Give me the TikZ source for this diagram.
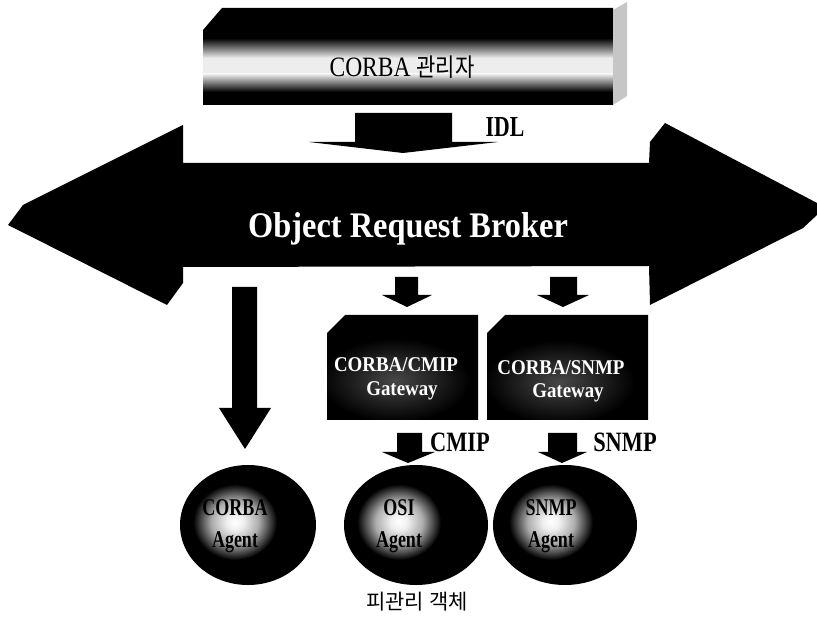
\documentclass[tikz,border=0pt]{standalone}
\usepackage{fontspec}
\usepackage{graphicx}
\setmainfont{Liberation Serif}
\newfontfamily\krfont{Noto Sans CJK KR}

% narrow (condensed) lettering
\newcommand{\narrowtext}[2][0.85]{\scalebox{#1}[1]{#2}}

% light glow behind the agent names, dim glow inside the gateways
\pgfdeclareradialshading{agentglow}{\pgfpoint{0bp}{0bp}}{%
  color(0bp)=(white); color(5bp)=(gray!12); color(14bp)=(gray!65);
  color(25bp)=(black); color(50bp)=(black)}
\pgfdeclareradialshading{gateglow}{\pgfpoint{0bp}{0bp}}{%
  color(0bp)=(black!72); color(25bp)=(black); color(50bp)=(black)}

\tikzset{
  blk/.style={fill=black, draw=none},
  lbl/.style={inner sep=0pt, outer sep=0pt},
  boldlbl/.style={lbl, font=\bfseries\fontsize{28}{30}\selectfont},
  gatetext/.style={lbl, text=white, font=\bfseries\fontsize{21}{23}\selectfont},
  agenttext/.style={lbl, text=black, font=\bfseries\fontsize{24}{26}\selectfont},
}

\begin{document}
\begin{tikzpicture}[x=1pt, y=-1pt]
\useasboundingbox (0,0) rectangle (817,617);

% ---------- CORBA manager bar ----------
\fill[blk] (203,30) -- (222,8) -- (613,8) -- (613,105) -- (203,105) -- cycle;
\shade[top color=black, bottom color=gray!14] (203,38) rectangle (613,58);
\fill[gray!14] (203,58) rectangle (613,74);
\shade[top color=gray!14, bottom color=black] (203,74) rectangle (613,92);
\fill[gray!45] (613,10) -- (627,2) -- (627,96) -- (613,105) -- cycle;
\node[lbl, anchor=base, font=\fontsize{28}{30}\selectfont] (mgr) at (402,77)
  {\narrowtext[0.84]{CORBA {\krfont\fontsize{25}{27}\selectfont 관리자}}};

% ---------- IDL arrow ----------
\fill[blk] (355,113) -- (452,113) -- (452,142) -- (498,142) -- (403,153)
  -- (309,142) -- (355,142) -- cycle;
\node[boldlbl, anchor=base, font=\bfseries\fontsize{29}{30}\selectfont] (idl) at (505,137)
  {\narrowtext[0.75]{IDL}};

% ---------- Object Request Broker double arrow ----------
\fill[blk] (8,225) -- (23,205) -- (183,125) -- (183,163) -- (649,163)
  -- (650,142) -- (665,123) -- (817,203) -- (817,215) -- (803,228)
  -- (650,305) -- (649,266) -- (183,267) -- (183,283) -- (167,305) -- cycle;
\node[lbl, anchor=base, text=white, font=\bfseries\fontsize{36}{38}\selectfont] (orb)
  at (408,238) {\narrowtext[0.9]{Object Request Broker}};

% ---------- arrows out of the broker ----------
\fill[blk] (232,287) -- (257,287) -- (257,408) -- (271,408) -- (245,449)
  -- (219,408) -- (232,408) -- cycle;
\fill[blk] (395,277) -- (418,277) -- (418,295) -- (432,295) -- (407,307)
  -- (382,295) -- (395,295) -- cycle;
\fill[blk] (550,277) -- (577,277) -- (577,295) -- (589,295) -- (563,307)
  -- (537,295) -- (550,295) -- cycle;

% ---------- gateways ----------
\fill[blk] (327,333) -- (345,315) -- (478,315) -- (478,420) -- (327,420) -- cycle;
\begin{scope}
  \clip (327,333) -- (345,315) -- (478,315) -- (478,420) -- (327,420) -- cycle;
  \shade[shading=gateglow] (395,380) ellipse (75 and 42);
\end{scope}
\node[gatetext, anchor=base] (cmipgw) at (396,372) {\narrowtext[0.9]{CORBA/CMIP}};
\node[gatetext, anchor=base] (cmipgw2) at (402,396) {\narrowtext[0.9]{Gateway}};

\fill[blk] (487,333) -- (505,315) -- (648,315) -- (648,420) -- (487,420) -- cycle;
\begin{scope}
  \clip (487,333) -- (505,315) -- (648,315) -- (648,420) -- (487,420) -- cycle;
  \shade[shading=gateglow] (560,382) ellipse (75 and 42);
\end{scope}
\node[gatetext, anchor=base] (snmpgw) at (561,375) {\narrowtext[0.9]{CORBA/SNMP}};
\node[gatetext, anchor=base] (snmpgw2) at (568,398) {\narrowtext[0.9]{Gateway}};

% ---------- protocol arrows ----------
\fill[blk] (397,433) -- (422,433) -- (422,452) -- (435,452) -- (408,463)
  -- (382,452) -- (397,452) -- cycle;
\node[boldlbl, anchor=base] (cmip) at (460,452) {\narrowtext[0.8]{CMIP}};
\fill[blk] (548,433) -- (577,433) -- (577,452) -- (587,452) -- (562,463)
  -- (538,452) -- (548,452) -- cycle;
\node[boldlbl, anchor=base] (snmp) at (625,452) {\narrowtext[0.8]{SNMP}};

% ---------- agents ----------
\foreach \cx/\gx/\rx/\nm/\top in {248/235/68/corba/CORBA, 416/399/72/osi/OSI, 565/551/72/snmp/SNMP}{
  \fill[blk] (\cx,525) ellipse (\rx pt and 60pt);
  \begin{scope}
    \clip (\cx,525) ellipse (\rx pt and 60pt);
    \shade[shading=agentglow] (\gx,522) ellipse (42 and 38);
  \end{scope}
  \node[agenttext, anchor=base] (\nm a) at (\gx,515) {\narrowtext[0.75]{\top}};
  \node[agenttext, anchor=base] (\nm b) at (\gx,547) {\narrowtext[0.75]{Agent}};
}

\node[lbl, font=\krfont\fontsize{21}{23}\selectfont] (managed) at (417,602) {피관리 객체};
\end{tikzpicture}
\end{document}
